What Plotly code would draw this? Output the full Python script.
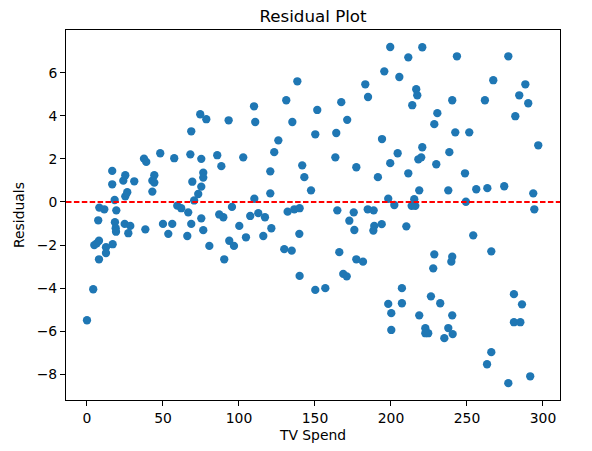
import plotly.graph_objects as go

tv_spend = [0.0, 4.1, 4.8, 6.4, 7.9, 7.9, 7.4, 8.1, 11.4, 12.5, 12.5, 16.9, 16.6, 16.6, 18.2, 18.4, 18.9, 19.1,
            19.3, 23.9, 25.2, 25.2, 26.5, 24.8, 28.5, 27.2, 31.1, 37.5, 39.0, 38.4, 43.0, 44.3, 44.3, 43.0, 48.2,
            50.0, 56.1, 53.5, 57.4, 59.4, 62.0, 66.6, 70.5, 68.6, 66.0, 75.2, 76.5, 80.5, 90.3, 74.5, 78.5, 68.6,
            68.0, 75.2, 76.5, 76.5, 69.3, 75.2, 73.2, 85.7, 88.4, 93.2, 87.0, 89.7, 93.6, 96.7, 95.4, 100.2, 104.6,
            107.4, 112.7, 117.1, 116.0, 121.3, 102.8, 109.9, 110.7, 110.1, 120.6, 120.6, 123.2, 125.9, 132.0, 136.4,
            139.9, 139.7, 129.8, 134.7, 139.9, 131.1, 138.4, 135.1, 141.6, 143.0, 147.4, 150.2, 151.5, 150.2, 156.8,
            164.0, 163.4, 167.3, 171.2, 164.7, 166.0, 168.6, 170.9, 172.6, 175.5, 175.9, 177.2, 177.2, 181.6, 183.1,
            184.9, 184.7, 188.6, 189.0, 193.9, 188.4, 191.4, 194.1, 195.6, 198.2, 198.2, 199.5, 199.5, 200.2, 200.2,
            202.2, 204.4, 205.5, 207.2, 207.2, 210.1, 211.4, 211.4, 213.6, 216.0, 215.3, 214.0, 216.6, 217.3, 218.0,
            219.9, 220.6, 218.6, 218.6, 220.6, 222.6, 224.5, 222.6, 226.3, 227.8, 228.5, 228.5, 230.5, 229.8, 232.4,
            235.1, 237.7, 240.6, 237.7, 238.4, 240.3, 240.3, 239.7, 240.3, 242.3, 243.4, 248.7, 249.3, 251.5, 254.1,
            256.1, 261.8, 263.4, 263.2, 266.0, 266.0, 267.3, 274.5, 277.2, 277.2, 280.9, 286.2, 280.9, 285.1, 281.8,
            284.4, 288.4, 290.3, 291.6, 293.6, 294.3, 296.9]

residuals = [-5.49, -4.05, -2.00, -1.92, -1.80, -2.66, -0.85, -0.26, -0.34, -2.10, -2.37, -1.96, 1.44, 0.82, 0.09,
             -0.94, -1.22, -1.38, -0.39, 0.99, 1.24, 0.26, 0.45, -1.02, -1.11, -1.45, 0.96, 2.01, 1.86, -1.27, 0.99,
             1.24, 0.90, 0.48, 2.26, -1.02, -1.02, -1.48, 2.03, -0.17, -0.29, -0.48, 0.07, -1.02, -1.58, -0.76, -1.31,
             -2.04, -2.66, 4.07, 3.84, 3.28, 2.21, 2.00, 1.36, 1.13, 0.94, 0.71, 0.37, 2.17, 1.66, 3.79, -0.58, -0.71,
             -1.80, -2.04, -0.23, -1.11, -1.64, -0.65, -0.52, -0.71, -1.58, -1.22, 2.07, 4.44, 3.71, 0.15, 1.42, 0.40,
             2.31, 2.86, -0.45, -0.34, -0.29, -1.48, -2.19, -2.26, -3.43, 4.72, 5.60, 3.71, 1.70, 1.15, 0.54, 3.14,
             4.27, -4.08, -4.00, 3.20, 2.07, 4.63, 3.81, -0.39, -2.33, -3.34, -3.45, -0.87, -0.48, -1.30, 1.61, -2.66,
             -2.77, 5.46, 4.87, -0.34, -0.39, -1.11, -1.03, -1.33, 1.15, 2.92, 6.06, 0.15, -4.73, 7.19, 1.80, -5.16,
             -5.94, -0.14, 2.26, 5.80, -4.00, -4.70, -1.13, 6.71, 1.33, -0.18, -0.18, 0.13, 4.49, 5.23, 4.95, 1.98,
             2.07, 2.54, 0.54, -5.26, 7.18, -5.86, -6.09, -6.09, -4.38, -3.08, -2.43, 3.61, 4.12, 1.75, -4.70, -6.32,
             -5.85, -6.13, 0.54, 2.31, -5.26, -2.54, -2.77, 4.72, 3.23, 6.76, 1.33, 0.01, 3.23, -1.55, 0.59, 4.72,
             0.64, -7.53, -6.97, -2.29, 5.65, 0.73, 6.76, -8.41, -4.28, -4.75, -5.58, -5.58, 3.98, 4.95, 5.46, 4.58,
             -8.09, 0.40, -0.34, 2.63]

x_ticks = [0, 50, 100, 150, 200, 250, 300]
y_ticks = [-8, -6, -4, -2, 0, 2, 4, 6]
x_range = [-13.8, 311.2]
y_range = [-9.19, 7.98]

font_family = "DejaVu Sans"

fig = go.Figure()
fig.add_trace(go.Scatter(
    x=tv_spend, y=residuals, mode="markers",
    marker=dict(color="#1f77b4", size=8.3, line=dict(width=0)),
    showlegend=False,
))
fig.add_trace(go.Scatter(
    x=x_range, y=[0, 0], mode="lines",
    line=dict(color="red", width=2, dash="5.5px,2.4px"),
    showlegend=False, hoverinfo="skip",
))

fig.update_layout(
    width=592, height=451,
    margin=dict(l=66, r=32, t=30, b=51),
    paper_bgcolor="white", plot_bgcolor="white",
    font=dict(family=font_family, size=13.9, color="black"),
    title=dict(text="Residual Plot", x=0.5, xref="paper", xanchor="center",
               y=1 - 16 / 451, yref="container", yanchor="middle",
               font=dict(size=16.7, color="black", family=font_family)),
)
fig.update_xaxes(
    range=x_range, tickvals=x_ticks, showgrid=False, zeroline=False,
    showline=True, linecolor="black", linewidth=1, mirror=True,
    ticks="outside", ticklen=5, tickwidth=1, tickcolor="black",
    tickfont=dict(size=13.9),
    title=dict(text="TV Spend", font=dict(size=13.9), standoff=5),
)
fig.update_yaxes(
    range=y_range, tickvals=y_ticks, showgrid=False, zeroline=False,
    showline=True, linecolor="black", linewidth=1, mirror=True,
    ticks="outside", ticklen=5, tickwidth=1, tickcolor="black",
    tickfont=dict(size=13.9),
    title=dict(text="Residuals", font=dict(size=13.9), standoff=8),
)

fig.write_html("out.html")
